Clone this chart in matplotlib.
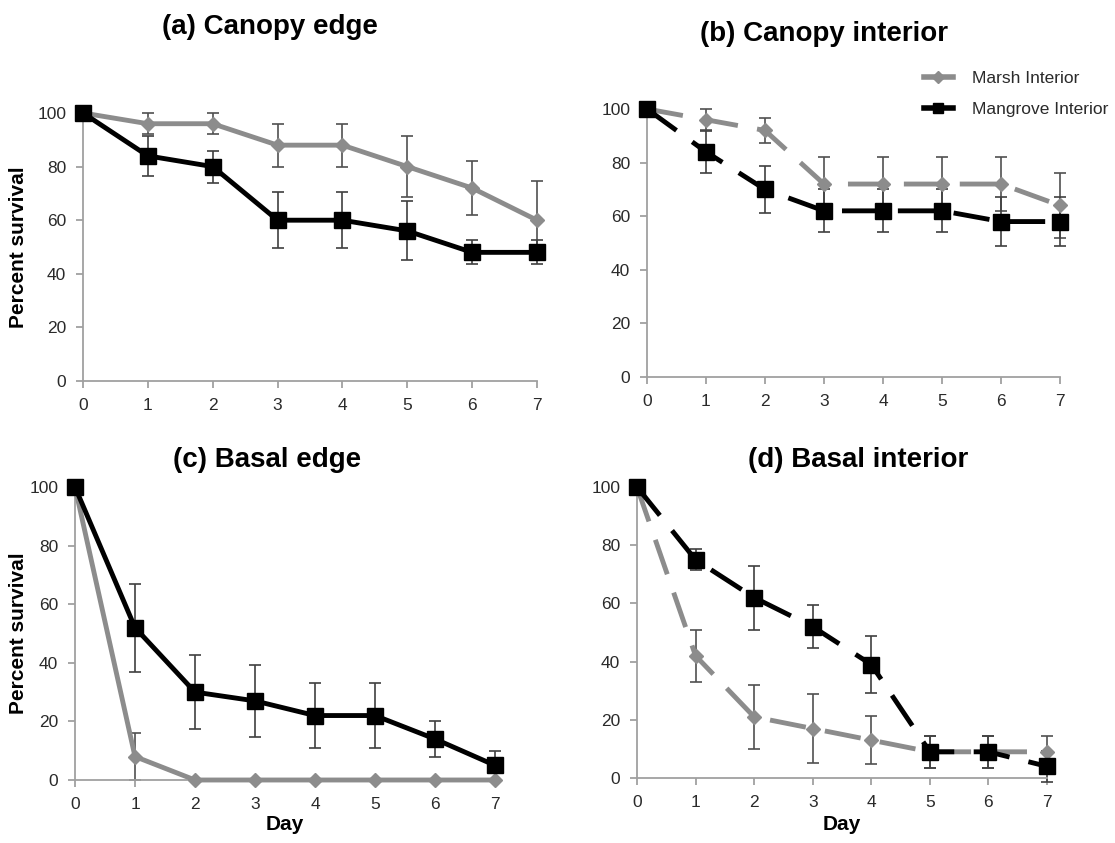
import matplotlib
matplotlib.use("Agg")
import matplotlib.pyplot as plt
from matplotlib.lines import Line2D

plt.rcParams['font.family'] = ['Liberation Sans', 'DejaVu Sans']

days = [0, 1, 2, 3, 4, 5, 6, 7]

# (a) Canopy edge
marsh_ce = [100, 96, 96, 88, 88, 80, 72, 60]
marsh_ce_err = [0, 4, 4, 8, 8, 11.5, 10, 14.5]
mang_ce = [100, 84, 80, 60, 60, 56, 48, 48]
mang_ce_err = [0, 7.5, 6, 10.5, 10.5, 11, 4.5, 4.5]

# (b) Canopy interior
marsh_ci = [100, 96, 92, 72, 72, 72, 72, 64]
marsh_ci_err = [0, 4, 4.7, 10, 10, 10, 10, 12]
mang_ci = [100, 84, 70, 62, 62, 62, 58, 58]
mang_ci_err = [0, 7.7, 8.7, 8, 8, 8, 9, 9]

# (c) Basal edge
marsh_be = [100, 8, 0, 0, 0, 0, 0, 0]
marsh_be_err = [0, 8, 0, 0, 0, 0, 0, 0]
mang_be = [100, 52, 30, 27, 22, 22, 14, 5]
mang_be_err = [0, 15, 12.7, 12.3, 11.2, 11.2, 6, 5]

# (d) Basal interior
marsh_bi = [100, 42, 21, 17, 13, 9, 9, 9]
marsh_bi_err = [0, 9, 11, 11.7, 8.3, 5.4, 5.4, 5.4]
mang_bi = [100, 75, 62, 52, 39, 9, 9, 4]
mang_bi_err = [0, 3.6, 11, 7.4, 9.8, 5.4, 5.4, 5.4]

titles = ['(a) Canopy edge', '(b) Canopy interior', '(c) Basal edge', '(d) Basal interior']

GRAY = '#8c8c8c'
TXT = '#2a2a2a'
AX = '#a0a0a0'
W, H = 1115, 843

fig = plt.figure(figsize=(11.15, 8.43), dpi=100)

# axes boxes in pixels: x0, x1, y_top(100), y_bottom(0); title centre x and baseline y
panels = [
    (titles[0], (83, 537, 113, 381), (270, 34), marsh_ce, marsh_ce_err, mang_ce, mang_ce_err, '-', True, False),
    (titles[1], (647, 1060, 109, 377), (824, 41), marsh_ci, marsh_ci_err, mang_ci, mang_ci_err, '--', False, False),
    (titles[2], (75, 495, 487, 780), (267, 467), marsh_be, marsh_be_err, mang_be, mang_be_err, '-', True, True),
    (titles[3], (637, 1047, 487, 778), (858, 467), marsh_bi, marsh_bi_err, mang_bi, mang_bi_err, '--', False, True),
]

for title, box, tpos, m, me, g, ge, ls, ylab, xlab in panels:
    x0, x1, yt, yb = box
    ax = fig.add_axes([x0 / W, 1 - yb / H, (x1 - x0) / W, (yb - yt) / H])
    ax.errorbar(days, m, yerr=me, fmt='none', ecolor='#505050', elinewidth=1.2,
                capsize=4, capthick=1.2, zorder=2, clip_on=False)
    ax.errorbar(days, g, yerr=ge, fmt='none', ecolor='#404040', elinewidth=1.2,
                capsize=4, capthick=1.2, zorder=2, clip_on=False)
    l1, = ax.plot(days, m, color=GRAY, lw=3.5, marker='D', markersize=7.5,
                  zorder=3, clip_on=False)
    l2, = ax.plot(days, g, color='black', lw=3.5, marker='s', markersize=11,
                  zorder=4, clip_on=False)
    if ls == '--':
        l1.set_dashes((7.5, 4))
        l2.set_dashes((7.5, 4))
    ax.set_xlim(0, 7)
    ax.set_ylim(0, 100)
    ax.set_xticks(days)
    ax.set_yticks([0, 20, 40, 60, 80, 100])
    for s in ['top', 'right']:
        ax.spines[s].set_visible(False)
    for s in ['left', 'bottom']:
        ax.spines[s].set_color(AX)
        ax.spines[s].set_linewidth(1.3)
    ax.tick_params(colors=AX, labelcolor=TXT, labelsize=12.5, length=5, width=1.3, pad=7)
    fig.text(tpos[0] / W, 1 - tpos[1] / H, title, fontsize=20, fontweight='bold',
             ha='center', va='baseline')
    if ylab:
        ax.set_ylabel('Percent survival', fontsize=15, fontweight='bold')
        ax.yaxis.set_label_coords((28 - x0) / (x1 - x0), 0.5)
    if xlab:
        ax.set_xlabel('Day', fontsize=15, fontweight='bold')
        ax.xaxis.set_label_coords(0.5, -(825 - yb) / (yb - yt))
        ax.xaxis.label.set_va('center')
    if title.startswith('(b)'):
        h1 = Line2D([], [], color=GRAY, lw=4, marker='D', markersize=6)
        h2 = Line2D([], [], color='black', lw=4, marker='s', markersize=7)
        leg = fig.legend([h1, h2], ['Marsh Interior', 'Mangrove Interior'],
                         loc='upper left', bbox_to_anchor=(915 / W, 1 - 62 / H),
                         frameon=False, fontsize=12.5, handlelength=1.7,
                         labelspacing=0.95, handletextpad=1.1, borderpad=0)
        for t in leg.get_texts():
            t.set_color(TXT)

fig.savefig('out.png', dpi=100)
